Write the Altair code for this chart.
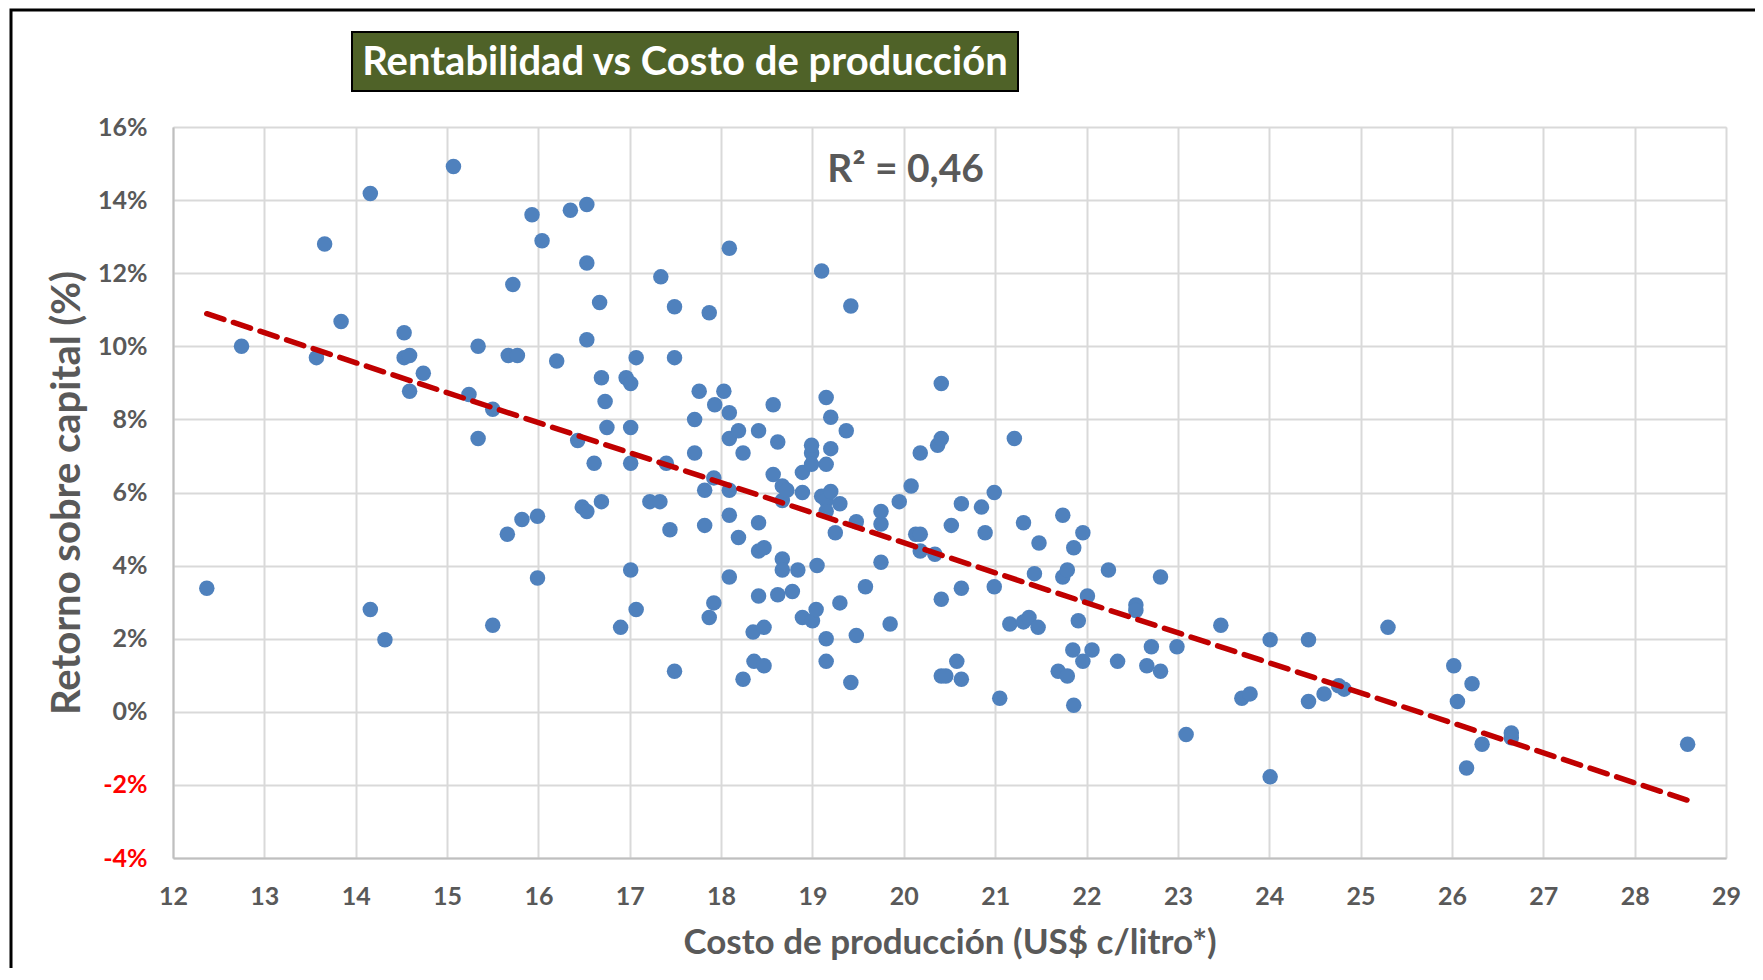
import altair as alt
import pandas as pd

# ---- data ----
cost = [12.37, 12.75, 13.57, 13.66, 13.84, 14.16, 14.16, 14.32, 14.53, 14.53,
        14.59, 14.59, 14.74, 15.07, 15.24, 15.34, 15.34, 15.50, 15.50, 15.66,
        15.67, 15.77, 15.72, 15.82, 15.93, 15.99, 15.99, 16.04, 16.20, 16.35,
        16.43, 16.48, 16.53, 16.53, 16.53, 16.53, 16.61, 16.67, 16.69, 16.69,
        16.73, 16.75, 16.90, 16.96, 17.01, 17.01, 17.01, 17.01, 17.07, 17.07,
        17.22, 17.33, 17.34, 17.40, 17.44, 17.49, 17.49, 17.49, 17.71, 17.71,
        17.76, 17.82, 17.82, 17.87, 17.87, 17.92, 17.92, 17.93, 18.03, 18.09,
        18.09, 18.09, 18.09, 18.09, 18.09, 18.19, 18.19, 18.24, 18.24, 18.35,
        18.36, 18.41, 18.41, 18.41, 18.41, 18.47, 18.47, 18.47, 18.57, 18.57,
        18.62, 18.62, 18.67, 18.67, 18.67, 18.67, 18.72, 18.78, 18.84, 18.89,
        18.89, 18.89, 18.99, 18.99, 18.99, 19.00, 19.04, 19.05, 19.10, 19.10,
        19.15, 19.15, 19.15, 19.15, 19.15, 19.15, 19.20, 19.20, 19.20, 19.25,
        19.30, 19.30, 19.37, 19.42, 19.42, 19.48, 19.48, 19.58, 19.75, 19.75,
        19.75, 19.85, 19.95, 20.08, 20.13, 20.18, 20.18, 20.18, 20.34, 20.37,
        20.41, 20.41, 20.41, 20.41, 20.46, 20.52, 20.58, 20.63, 20.63, 20.63,
        20.85, 20.89, 20.99, 20.99, 21.05, 21.16, 21.21, 21.31, 21.31, 21.37,
        21.43, 21.47, 21.48, 21.69, 21.74, 21.74, 21.79, 21.79, 21.85, 21.86,
        21.86, 21.91, 21.96, 21.96, 22.01, 22.06, 22.24, 22.34, 22.54, 22.54,
        22.66, 22.71, 22.81, 22.81, 22.99, 23.09, 23.47, 23.70, 23.79, 24.01,
        24.01, 24.43, 24.43, 24.60, 24.76, 24.82, 25.30, 26.02, 26.06, 26.16,
        26.22, 26.33, 26.65, 26.65, 28.58]

roe = [3.38, 10.00, 9.69, 12.80, 10.68, 14.18, 2.80, 1.97, 10.37, 9.69,
       9.75, 8.77, 9.26, 14.92, 8.68, 10.00, 7.48, 8.28, 2.37, 4.86,
       9.75, 9.75, 11.69, 5.26, 13.60, 5.35, 3.66, 12.89, 9.60, 13.72,
       7.42, 5.60, 5.48, 13.88, 12.28, 10.18, 6.80, 11.20, 9.14, 5.75,
       8.49, 7.78, 2.31, 9.14, 8.98, 7.78, 6.80, 3.88, 9.69, 2.80,
       5.75, 5.75, 11.90, 6.80, 4.98, 11.08, 9.69, 1.11, 8.00, 7.08,
       8.77, 6.06, 5.10, 10.92, 2.58, 6.40, 2.98, 8.40, 8.77, 12.68,
       8.18, 7.48, 6.06, 5.38, 3.69, 7.69, 4.77, 7.08, 0.89, 2.18,
       1.38, 7.69, 5.17, 4.40, 3.17, 4.49, 2.31, 1.26, 8.40, 6.49,
       7.38, 3.20, 6.18, 5.78, 4.18, 3.88, 6.06, 3.29, 3.88, 6.55,
       6.00, 2.58, 7.08, 6.77, 7.29, 2.49, 2.80, 4.00, 12.06, 5.90,
       8.60, 6.77, 5.78, 5.48, 2.00, 1.38, 8.06, 7.20, 6.03, 4.90,
       5.69, 2.98, 7.69, 11.10, 0.80, 5.20, 2.09, 3.42, 5.14, 5.48,
       4.09, 2.40, 5.75, 6.18, 4.86, 7.08, 4.86, 4.40, 4.31, 7.29,
       8.98, 7.48, 3.08, 0.98, 0.98, 5.10, 1.38, 5.69, 3.38, 0.89,
       5.60, 4.90, 6.00, 3.42, 0.37, 2.40, 7.48, 5.17, 2.46, 2.58,
       3.78, 2.31, 4.62, 1.11, 5.38, 3.69, 3.88, 0.98, 1.69, 4.49,
       0.18, 2.49, 4.90, 1.38, 3.17, 1.69, 3.88, 1.38, 2.92, 2.77,
       1.26, 1.78, 3.69, 1.11, 1.78, -0.62, 2.37, 0.37, 0.49, 1.97,
       -1.78, 1.97, 0.28, 0.49, 0.71, 0.62, 2.31, 1.26, 0.28, -1.54,
       0.77, -0.89, -0.58, -0.71, -0.89]

x_ticks = list(range(12, 30))
y_ticks = list(range(-4, 17))

title_text = "Rentabilidad vs Costo de producción"
r2_text = ["R² = 0,46"]
r2_pos_x = [20.02]
r2_pos_y = [14.82]

df = pd.DataFrame({"cost": cost, "roe": roe})
r2_df = pd.DataFrame({"txt": r2_text, "cx": r2_pos_x, "cy": r2_pos_y})

FONT = "Lato"
GREY = "#595959"
W, H = 1553, 731

xscale = alt.Scale(domain=[12, 29], nice=False, zero=False)
yscale = alt.Scale(domain=[-4, 16], nice=False, zero=False)

xaxis = alt.Axis(
    values=x_ticks, format="d", grid=True, gridColor="#D9D9D9", gridWidth=2,
    domainColor="#BFBFBF", domainWidth=2, ticks=False,
    labelFont=FONT, labelFontWeight="bold", labelFontSize=25, labelColor=GREY,
    labelPadding=26, labelFlush=False,
    title="Costo de producción (US$ c/litro*)", titleFont=FONT,
    titleFontWeight="bold", titleFontSize=35, titleColor=GREY, titlePadding=16,
)
yaxis = alt.Axis(
    values=y_ticks, grid=True,
    gridColor={"condition": {"test": "datum.value % 2 === 0", "value": "#D9D9D9"}, "value": "#F0F0F0"},
    gridWidth=2, domainColor="#BFBFBF", domainWidth=2, ticks=False,
    labelExpr="datum.value % 2 === 0 ? datum.value + '%' : ''",
    labelColor={"condition": {"test": "datum.value < 0", "value": "#FF0000"}, "value": GREY},
    labelFont=FONT, labelFontWeight="bold", labelFontSize=25,
    labelPadding=26, labelFlush=False,
    title="Retorno sobre capital (%)", titleFont=FONT, titleFontWeight="bold",
    titleFontSize=40, titleColor=GREY, titlePadding=10,
)

base = alt.Chart(df)

points = base.mark_circle(size=240, opacity=1, color="#4F81BD").encode(
    x=alt.X("cost:Q", scale=xscale, axis=xaxis),
    y=alt.Y("roe:Q", scale=yscale, axis=yaxis),
)

trend = base.transform_regression("cost", "roe").mark_line(
    color="#C00000", strokeWidth=5.5, strokeDash=[18, 10], strokeCap="round"
).encode(x=alt.X("cost:Q", scale=xscale), y=alt.Y("roe:Q", scale=yscale))

r2 = alt.Chart(r2_df).mark_text(
    font=FONT, fontWeight="bold", fontSize=39, color=GREY, align="center", baseline="middle"
).encode(x=alt.X("cx:Q", scale=xscale), y=alt.Y("cy:Q", scale=yscale), text="txt:N")

# title box (decoration, in pixels relative to plot origin)
title_box = alt.Chart(pd.DataFrame({"t": [title_text]})).mark_rect(
    fill="#4F6228", stroke="#000000", strokeWidth=2
).encode(x=alt.value(179), x2=alt.value(845), y=alt.value(-95), y2=alt.value(-36))

title_lbl = alt.Chart(pd.DataFrame({"t": [title_text]})).mark_text(
    font=FONT, fontWeight="bold", fontSize=40, color="white", align="center", baseline="middle"
).encode(x=alt.value(512), y=alt.value(-64), text="t:N")

frame = alt.Chart(pd.DataFrame({"t": [0]})).mark_rect(
    fill="transparent", stroke="#000000", strokeWidth=3
).encode(x=alt.value(-162), x2=alt.value(W + 200), y=alt.value(-117), y2=alt.value(H + 200))

chart = alt.layer(points, trend, r2, title_box, title_lbl, frame).properties(
    width=W, height=H,
    autosize=alt.AutoSizeParams(type="none"),
    padding={"left": 165, "top": 119, "right": 29, "bottom": 110},
).configure_view(stroke=None).configure(background="white")

chart.save("out.html", embed_options={"renderer": "svg", "actions": False})
